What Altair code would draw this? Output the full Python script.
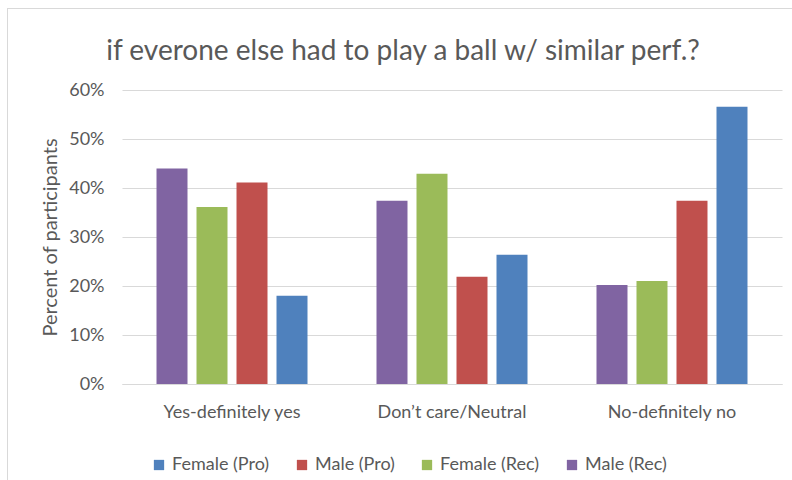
import altair as alt
import pandas as pd

# Survey answers (x categories) and respondent groups (legend order)
categories = ["Yes-definitely yes", "Don’t care/Neutral", "No-definitely no"]
groups = ["Female (Pro)", "Male (Pro)", "Female (Rec)", "Male (Rec)"]
group_colors = ["#4F81BD", "#C0504D", "#9BBB59", "#8064A2"]

# Percent of participants per answer, one list per group
female_pro = [18.0, 26.4, 56.6]
male_pro = [41.1, 21.9, 37.4]
female_rec = [36.1, 42.9, 21.0]
male_rec = [44.0, 37.4, 20.2]

y_ticks = [0.0, 0.1, 0.2, 0.3, 0.4, 0.5, 0.6]
chart_title = "if everone else had to play a ball w/ similar perf.?"

series = {
    "Female (Pro)": female_pro,
    "Male (Pro)": male_pro,
    "Female (Rec)": female_rec,
    "Male (Rec)": male_rec,
}
rows = []
for g, vals in series.items():
    for cat, v in zip(categories, vals):
        rows.append({"answer": cat, "group": g, "share": v / 100.0})
df = pd.DataFrame(rows)

FONT = "Lato"
TEXT = "#595959"
GRID = "#D9D9D9"

bars = alt.Chart(df).mark_bar().encode(
    x=alt.X(
        "answer:N",
        sort=categories,
        scale=alt.Scale(paddingInner=0.2727, paddingOuter=0.1364),
        axis=alt.Axis(
            title=None, labelAngle=0, ticks=False, domainColor=GRID,
            labelFont=FONT, labelFontSize=18, labelColor=TEXT, labelPadding=19,
        ),
    ),
    xOffset=alt.XOffset(
        "group:N",
        sort=list(reversed(groups)),
        scale=alt.Scale(paddingInner=0.225, paddingOuter=0.1125),
    ),
    y=alt.Y(
        "share:Q",
        scale=alt.Scale(domain=[0, 0.6], nice=False),
        axis=alt.Axis(
            values=y_ticks, format=".0%", title="Percent of participants",
            ticks=False, domain=False, gridColor=GRID, gridWidth=1,
            labelFont=FONT, labelFontSize=18, labelColor=TEXT, labelPadding=18,
            titleFont=FONT, titleFontSize=20, titleColor=TEXT, titleFontWeight="normal",
            titleX=-72, titleY=147, titleBaseline="middle",
        ),
    ),
    color=alt.Color(
        "group:N",
        scale=alt.Scale(domain=groups, range=group_colors),
        legend=alt.Legend(
            title=None, orient="none", legendX=28, legendY=366,
            direction="horizontal", columns=4, symbolType="square",
            symbolSize=106, symbolStrokeWidth=0, labelFont=FONT,
            labelFontSize=18, labelColor=TEXT, columnPadding=23, labelOffset=4,
        ),
    ),
)

frame = alt.Data(values=[{"edge": 1}])

# Chart heading, centred over the whole frame
heading = alt.Chart(frame).mark_text(
    font=FONT, fontSize=28, color=TEXT, align="center", baseline="alphabetic"
).encode(x=alt.value(281), y=alt.value(-30), text=alt.value(chart_title))

# Light frame along the chart's left and top edges
left_edge = alt.Chart(frame).mark_rule(color=GRID, strokeWidth=1).encode(
    x=alt.value(-114.5), y=alt.value(-82), y2=alt.value(400)
)
top_edge = alt.Chart(frame).mark_rule(color=GRID, strokeWidth=1).encode(
    x=alt.value(-114.5), x2=alt.value(680), y=alt.value(-81.5)
)

chart = alt.layer(bars, left_edge, top_edge, heading).properties(
    width=660,
    height=294,
    autosize=alt.AutoSizeParams(type="none"),
    padding={"left": 122, "top": 90, "right": 10, "bottom": 96},
    background="white",
).configure_view(stroke=None)

chart.save("out.html", embed_options={"renderer": "svg", "actions": False})
